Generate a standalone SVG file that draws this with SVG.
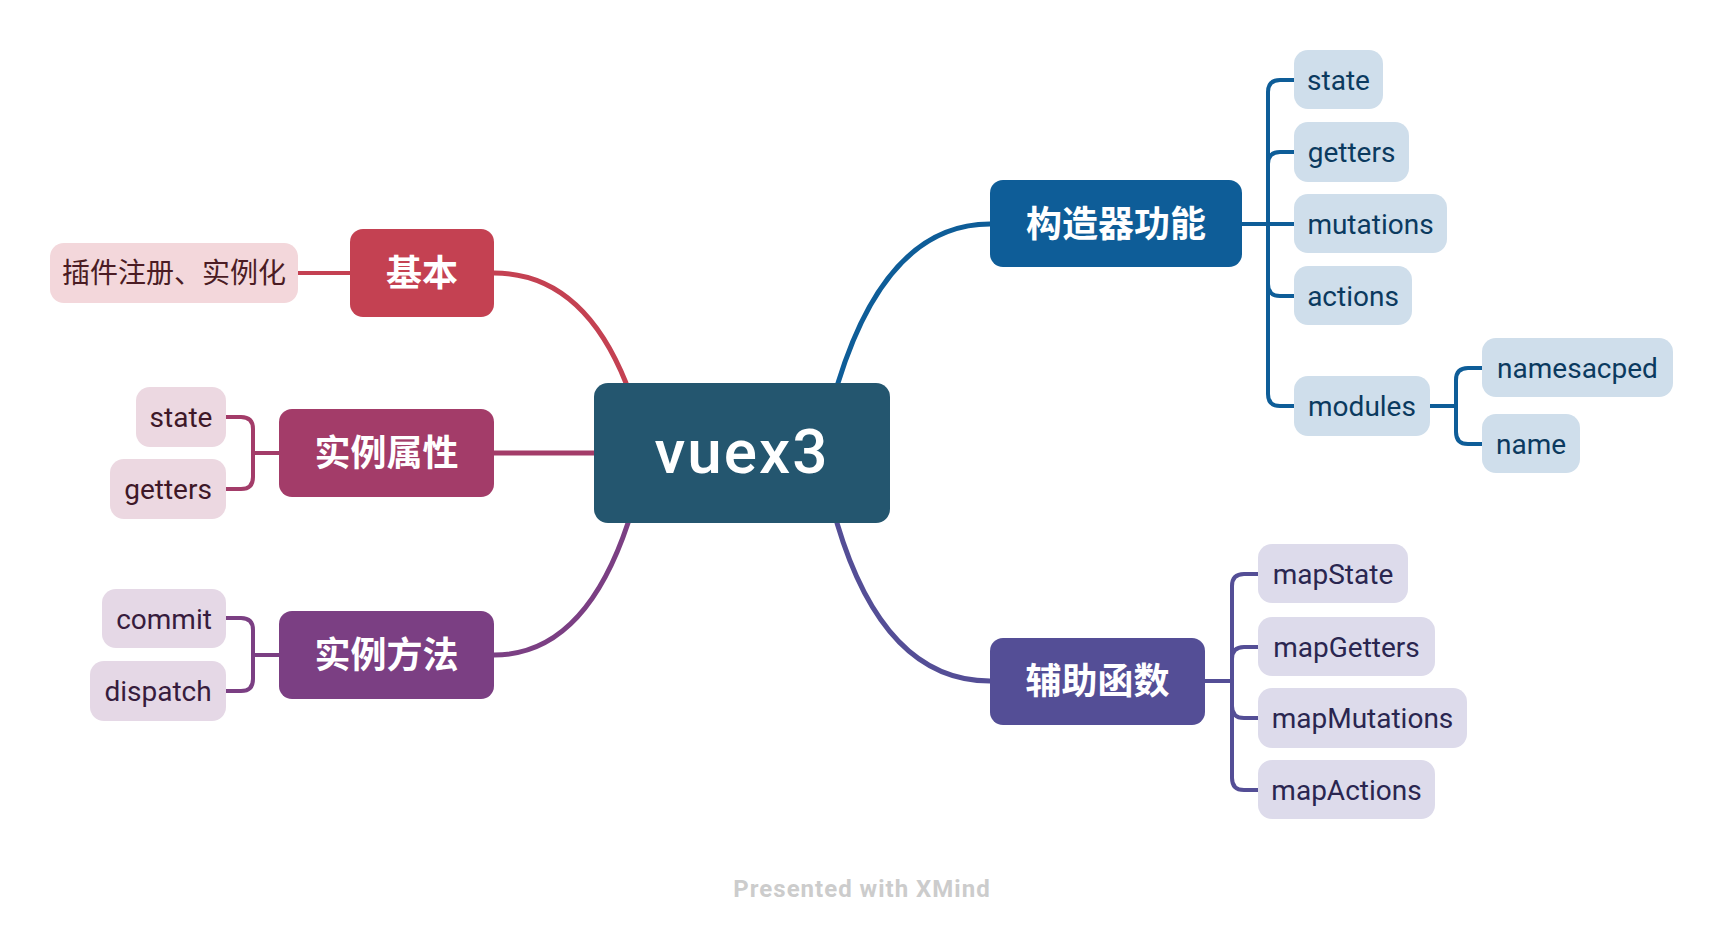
<svg xmlns="http://www.w3.org/2000/svg" width="1724" height="940" viewBox="0 0 1724 940">
<style>
.t{font-family:Roboto,"Noto Sans CJK SC",sans-serif;text-anchor:middle}
.main{font-family:"Noto Sans CJK SC",sans-serif;font-weight:bold;font-size:36px;fill:#fff;text-anchor:middle}
.sub{font-size:28px}
.c{fill:none;stroke-linecap:round;stroke-linejoin:round}
.m{stroke-width:5}
.b{stroke-width:4}
</style>
<rect width="1724" height="940" fill="#fff"/>
<g id="connectors">
<path class="c b" stroke="#c44152" d="M298,273 H350"/>
<path class="c m" stroke="#c44152" d="M494,273 Q582,273 626,383"/>
<path class="c m" stroke="#a33c69" d="M494,453 H594"/>
<path class="c m" stroke="#7b3f83" d="M494,655 Q584,655 628,523"/>
<path class="c m" stroke="#0e5d98" d="M990,224 Q887,224 838,383"/>
<path class="c m" stroke="#544e96" d="M990,681 Q884,681 837,523"/>
<g stroke="#a33c69" class="c b">
<path d="M279,453 H253 V429 Q253,417 241,417 H226"/>
<path d="M279,453 H253 V477 Q253,489 241,489 H226"/>
</g>
<g stroke="#7b3f83" class="c b">
<path d="M279,655 H253 V630 Q253,618 241,618 H226"/>
<path d="M279,655 H253 V679 Q253,691 241,691 H226"/>
</g>
<g stroke="#0e5d98" class="c b">
<path d="M1242,224 H1268 V92 Q1268,80 1280,80 H1294"/>
<path d="M1242,224 H1268 V164 Q1268,152 1280,152 H1294"/>
<path d="M1242,224 H1294"/>
<path d="M1242,224 H1268 V284 Q1268,296 1280,296 H1294"/>
<path d="M1242,224 H1268 V394 Q1268,406 1280,406 H1294"/>
<path d="M1430,406 H1456 V380 Q1456,368 1468,368 H1482"/>
<path d="M1430,406 H1456 V432 Q1456,444 1468,444 H1482"/>
</g>
<g stroke="#544e96" class="c b">
<path d="M1205,681 H1232 V586 Q1232,574 1244,574 H1258"/>
<path d="M1205,681 H1232 V659 Q1232,647 1244,647 H1258"/>
<path d="M1205,681 H1232 V706 Q1232,718 1244,718 H1258"/>
<path d="M1205,681 H1232 V778 Q1232,790 1244,790 H1258"/>
</g>
</g>
<g id="root"><rect x="594" y="383" width="296" height="140" rx="14" fill="#24566f"/><text class="t" x="742" y="473" font-size="62" font-weight="500" fill="#fff" letter-spacing="2">vuex3</text></g>
<g id="jiben"><rect x="350" y="229" width="144" height="88" rx="13" fill="#c44152"/><text class="main" x="422" y="286">基本</text></g>
<g id="chajian"><rect x="50" y="243" width="248" height="60" rx="14" fill="#f3d7db"/><text class="t sub" x="174" y="283" fill="#4b1c24">插件注册、实例化</text></g>
<g id="shulishuxing"><rect x="279" y="409" width="215" height="88" rx="13" fill="#a33c69"/><text class="main" x="386.5" y="466">实例属性</text></g>
<g id="l-state"><rect x="136" y="387" width="90" height="60" rx="14" fill="#ecd8e1"/><text class="t sub" x="181" y="427" fill="#3e1828">state</text></g>
<g id="l-getters"><rect x="110" y="459" width="116" height="60" rx="14" fill="#ecd8e1"/><text class="t sub" x="168" y="499" fill="#3e1828">getters</text></g>
<g id="shilifangfa"><rect x="279" y="611" width="215" height="88" rx="13" fill="#7b3f83"/><text class="main" x="386.5" y="668">实例方法</text></g>
<g id="commit"><rect x="102" y="589" width="124" height="59" rx="14" fill="#e5d8e6"/><text class="t sub" x="164" y="628.5" fill="#371c3d">commit</text></g>
<g id="dispatch"><rect x="90" y="661" width="136" height="60" rx="14" fill="#e5d8e6"/><text class="t sub" x="158" y="701" fill="#371c3d">dispatch</text></g>
<g id="gouzaoqi"><rect x="990" y="180" width="252" height="87" rx="13" fill="#0e5d98"/><text class="main" x="1116" y="237">构造器功能</text></g>
<g id="r-state"><rect x="1294" y="50" width="89" height="59" rx="14" fill="#cfdeeb"/><text class="t sub" x="1338.5" y="89.5" fill="#0b3a5f">state</text></g>
<g id="r-getters"><rect x="1294" y="122" width="115" height="60" rx="14" fill="#cfdeeb"/><text class="t sub" x="1351.5" y="162" fill="#0b3a5f">getters</text></g>
<g id="mutations"><rect x="1294" y="194" width="153" height="59" rx="14" fill="#cfdeeb"/><text class="t sub" x="1370.5" y="233.5" fill="#0b3a5f">mutations</text></g>
<g id="actions"><rect x="1294" y="266" width="118" height="59" rx="14" fill="#cfdeeb"/><text class="t sub" x="1353" y="305.5" fill="#0b3a5f">actions</text></g>
<g id="modules"><rect x="1294" y="376" width="136" height="60" rx="14" fill="#cfdeeb"/><text class="t sub" x="1362" y="416" fill="#0b3a5f">modules</text></g>
<g id="namesacped"><rect x="1482" y="338" width="191" height="59" rx="14" fill="#cfdeeb"/><text class="t sub" x="1577.5" y="377.5" fill="#0b3a5f">namesacped</text></g>
<g id="name"><rect x="1482" y="414" width="98" height="59" rx="14" fill="#cfdeeb"/><text class="t sub" x="1531" y="453.5" fill="#0b3a5f">name</text></g>
<g id="fuzhu"><rect x="990" y="638" width="215" height="87" rx="13" fill="#544e96"/><text class="main" x="1097.5" y="694">辅助函数</text></g>
<g id="mapState"><rect x="1258" y="544" width="150" height="59" rx="14" fill="#dddbeb"/><text class="t sub" x="1333" y="583.5" fill="#2a2650">mapState</text></g>
<g id="mapGetters"><rect x="1258" y="617" width="177" height="59" rx="14" fill="#dddbeb"/><text class="t sub" x="1346.5" y="656.5" fill="#2a2650">mapGetters</text></g>
<g id="mapMutations"><rect x="1258" y="688" width="209" height="60" rx="14" fill="#dddbeb"/><text class="t sub" x="1362.5" y="728" fill="#2a2650">mapMutations</text></g>
<g id="mapActions"><rect x="1258" y="760" width="177" height="59" rx="14" fill="#dddbeb"/><text class="t sub" x="1346.5" y="799.5" fill="#2a2650">mapActions</text></g>
<text class="t" x="862" y="897" font-size="24" font-weight="bold" fill="#cccccc" letter-spacing="1">Presented with XMind</text>
</svg>
